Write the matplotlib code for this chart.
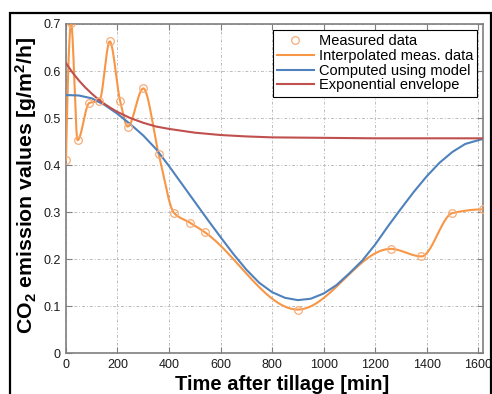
import numpy as np
import matplotlib
matplotlib.use("Agg")
import matplotlib.pyplot as plt
from matplotlib.patches import Rectangle

plt.rcParams['font.family'] = ['Liberation Sans', 'DejaVu Sans']
plt.rcParams['mathtext.fontset'] = 'custom'
plt.rcParams['mathtext.rm'] = 'Liberation Sans:bold'
plt.rcParams['mathtext.bf'] = 'Liberation Sans:bold'
plt.rcParams['mathtext.default'] = 'bf'

# ---- data ----
meas_t = [0, 20, 45, 90, 130, 170, 210, 240, 300, 360, 420, 480, 540,
          900, 1260, 1380, 1500, 1620]
meas_y = [0.411, 0.702, 0.453, 0.532, 0.537, 0.663, 0.537, 0.482, 0.563,
          0.423, 0.298, 0.278, 0.257, 0.093, 0.222, 0.206, 0.298, 0.306]

model_t = [0, 50, 100, 150, 200, 250, 300, 350, 400, 450, 500, 550, 600,
           650, 700, 750, 800, 850, 900, 950, 1000, 1050, 1100, 1150, 1200,
           1250, 1300, 1350, 1400, 1450, 1500, 1550, 1620]
model_y = [0.549, 0.548, 0.542, 0.528, 0.509, 0.487, 0.463, 0.434, 0.398,
           0.360, 0.322, 0.284, 0.247, 0.211, 0.178, 0.150, 0.130, 0.118,
           0.113, 0.116, 0.127, 0.145, 0.170, 0.197, 0.231, 0.270, 0.307,
           0.343, 0.376, 0.405, 0.428, 0.445, 0.456]

env_t = [0, 25, 50, 75, 100, 125, 150, 175, 200, 250, 300, 350, 400, 500,
         600, 700, 800, 1000, 1200, 1620]
env_y = [0.617, 0.597, 0.580, 0.565, 0.552, 0.540, 0.530, 0.521, 0.513,
         0.500, 0.490, 0.482, 0.477, 0.469, 0.464, 0.461, 0.459, 0.458,
         0.457, 0.457]

x_ticks = [0, 200, 400, 600, 800, 1000, 1200, 1400, 1600]
y_ticks = [0, 0.1, 0.2, 0.3, 0.4, 0.5, 0.6, 0.7]
labels = ['Measured data', 'Interpolated meas. data',
          'Computed using model', 'Exponential envelope']


def pchip(x, y, xq):
    x = np.asarray(x, float)
    y = np.asarray(y, float)
    h = np.diff(x)
    delta = np.diff(y) / h
    n = len(x)
    d = np.zeros(n)
    for k in range(1, n - 1):
        if delta[k - 1] * delta[k] > 0:
            w1 = 2 * h[k] + h[k - 1]
            w2 = h[k] + 2 * h[k - 1]
            d[k] = (w1 + w2) / (w1 / delta[k - 1] + w2 / delta[k])

    def end(h0, h1, d0, d1):
        s = ((2 * h0 + h1) * d0 - h0 * d1) / (h0 + h1)
        if np.sign(s) != np.sign(d0):
            s = 0.0
        elif np.sign(d0) != np.sign(d1) and abs(s) > abs(3 * d0):
            s = 3 * d0
        return s
    d[0] = end(h[0], h[1], delta[0], delta[1])
    d[-1] = end(h[-1], h[-2], delta[-1], delta[-2])
    xq = np.asarray(xq, float)
    idx = np.clip(np.searchsorted(x, xq) - 1, 0, n - 2)
    hh = h[idx]
    t = (xq - x[idx]) / hh
    h00 = 2 * t**3 - 3 * t**2 + 1
    h10 = t**3 - 2 * t**2 + t
    h01 = -2 * t**3 + 3 * t**2
    h11 = t**3 - t**2
    return h00 * y[idx] + h10 * hh * d[idx] + h01 * y[idx + 1] + h11 * hh * d[idx + 1]


C_ORANGE = '#f79646'
C_BLUE = '#4f81bd'
C_RED = '#c0504d'

fig = plt.figure(figsize=(4.92, 3.94), dpi=100)
ax = fig.add_axes([0.1341, 0.1033, 0.8482, 0.8358])

tq = np.linspace(meas_t[0], meas_t[-1], 1200)
ax.plot(meas_t, meas_y, 'o', ms=5.5, mfc='none', mec='#f6ad78', mew=0.9,
        label=labels[0], zorder=4)
ax.plot(tq, pchip(meas_t, meas_y, tq), color=C_ORANGE, lw=1.5,
        label=labels[1], zorder=3)
ax.plot(model_t, model_y, color=C_BLUE, lw=1.5, label=labels[2], zorder=3)
ax.plot(env_t, env_y, color=C_RED, lw=1.5, label=labels[3], zorder=3)

ax.set_xlim(0, 1620)
ax.set_ylim(0, 0.7)
ax.set_xticks(x_ticks)
ax.set_yticks(y_ticks)
ax.set_xticklabels([str(v) for v in x_ticks])
ax.set_yticklabels(['0'] + ['%.1f' % v for v in y_ticks[1:]])
ax.tick_params(direction='in', length=4, width=0.8, color='#7f7f7f',
               labelsize=9, labelcolor='#1a1a1a', top=True, right=True, pad=4)
ax.grid(True, color='#bdbdbd', lw=0.7, ls=(0, (3, 2, 1, 2)))
for s in ax.spines.values():
    s.set_color('#7f7f7f')
    s.set_linewidth(1.2)

ax.set_xlabel('Time after tillage [min]', fontsize=14.5, fontweight='bold',
              labelpad=3)
ax.xaxis.label.set_x(0.519)
ax.set_ylabel('CO$_2$ emission values [g/m$^2$/h]', fontsize=15.3,
              fontweight='bold', labelpad=3)
ax.yaxis.label.set_y(0.51)

leg = ax.legend(loc='upper right', fontsize=10.5, numpoints=1,
                handlelength=2.5, handletextpad=0.35, labelspacing=0.05,
                borderaxespad=0.4, borderpad=0.3, fancybox=False,
                framealpha=1, edgecolor='black')
leg.get_frame().set_linewidth(0.8)

fig.patches.append(Rectangle((9.5 / 492, -0.1), (490.5 - 9.5) / 492,
                             1.1 - 12.7 / 394, transform=fig.transFigure,
                             fill=False, edgecolor='black', lw=1.6,
                             clip_on=False))

fig.savefig('out.png', dpi=100)
